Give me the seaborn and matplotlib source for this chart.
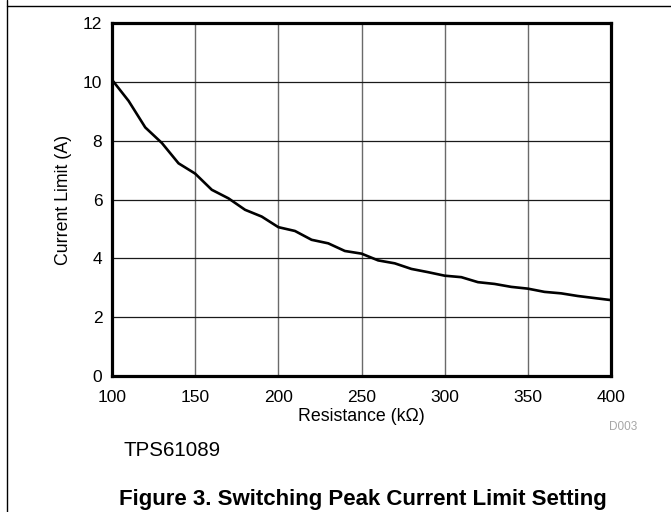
import numpy as np
import pandas as pd
import seaborn as sns
import matplotlib
matplotlib.use("Agg")
import matplotlib.pyplot as plt
from matplotlib.lines import Line2D

# values
resistance_kohm = [100, 110, 120, 130, 140, 150, 160, 170, 180, 190,
                   200, 210, 220, 230, 240, 250, 260, 270, 280, 290,
                   300, 310, 320, 330, 340, 350, 360, 370, 380, 390, 400]
current_limit_a = [10.07, 9.35, 8.45, 7.92, 7.23, 6.88, 6.33, 6.04, 5.65, 5.42,
                   5.06, 4.93, 4.63, 4.51, 4.25, 4.16, 3.93, 3.83, 3.64, 3.53,
                   3.41, 3.36, 3.19, 3.13, 3.03, 2.97, 2.86, 2.81, 2.72, 2.65,
                   2.58]
x_ticks = [100, 150, 200, 250, 300, 350, 400]
y_ticks = [0, 2, 4, 6, 8, 10, 12]

df = pd.DataFrame({"Resistance": resistance_kohm, "Current": current_limit_a})

sns.set_style("white")
plt.rcParams["font.family"] = ["Liberation Sans", "DejaVu Sans"]
plt.rcParams["text.color"] = "black"
plt.rcParams["axes.labelcolor"] = "black"

fig = plt.figure(figsize=(6.71, 5.12), dpi=100)
ax = fig.add_axes([0.1669, 0.2656, 0.7437, 0.6895])

sns.lineplot(data=df, x="Resistance", y="Current", ax=ax, color="black", linewidth=1.9)

ax.set_xlim(100, 400)
ax.set_ylim(0, 12)
ax.set_xticks(x_ticks)
ax.set_yticks(y_ticks)
ax.tick_params(axis="both", length=0, labelsize=12.5, colors="black")
ax.tick_params(axis="x", pad=10)
ax.tick_params(axis="y", pad=7)

# grid: vertical lines lighter than horizontal ones
ax.xaxis.grid(True, color="#6a6a6a", linewidth=1.0)
ax.yaxis.grid(True, color="#1a1a1a", linewidth=0.9)
ax.set_axisbelow(True)

for side in ["left", "right", "top", "bottom"]:
    ax.spines[side].set_visible(True)
    ax.spines[side].set_color("black")
    ax.spines[side].set_linewidth(2.3)

ax.set_xlabel("Resistance (k\u03a9)", fontsize=12.8, labelpad=2)
ax.set_ylabel("Current Limit (A)", fontsize=12.8, labelpad=8)

fig.text(623 / 671, 1 - 427 / 512, "D003", fontsize=8.5, color="#a6a6a6",
         ha="center", va="center")
fig.text(123 / 671, 1 - 451 / 512, "TPS61089", fontsize=14.8, color="black",
         ha="left", va="center")
fig.text(363 / 671, 1 - 499 / 512, "Figure 3. Switching Peak Current Limit Setting",
         fontsize=16, fontweight="bold", color="black", ha="center", va="center")

# page frame lines
fig.add_artist(Line2D([7 / 671, 1.0], [1 - 6 / 512, 1 - 6 / 512],
                      transform=fig.transFigure, color="black", linewidth=1.0))
fig.add_artist(Line2D([7 / 671, 7 / 671], [0.0, 1.0],
                      transform=fig.transFigure, color="black", linewidth=1.0))

fig.savefig("out.png", dpi=100)
plt.close(fig)
